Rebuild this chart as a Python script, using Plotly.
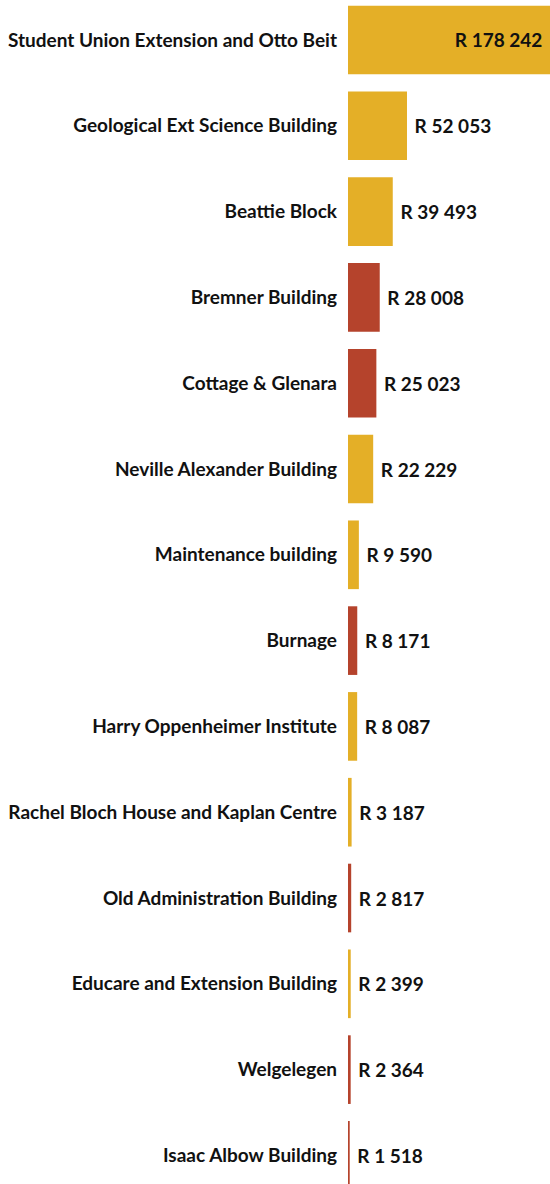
import plotly.graph_objects as go

buildings = [
    "Student Union Extension and Otto Beit",
    "Geological Ext Science Building",
    "Beattie Block",
    "Bremner Building",
    "Cottage & Glenara",
    "Neville Alexander Building",
    "Maintenance building",
    "Burnage",
    "Harry Oppenheimer Institute",
    "Rachel Bloch House and Kaplan Centre",
    "Old Administration Building",
    "Educare and Extension Building",
    "Welgelegen",
    "Isaac Albow Building",
]
values = [178242, 52053, 39493, 28008, 25023, 22229, 9590, 8171, 8087, 3187, 2817, 2399, 2364, 1518]
groups = ["gold", "gold", "gold", "red", "red", "gold", "gold", "red", "gold", "gold", "red", "gold", "red", "red"]

palette = {"gold": "#E4AF27", "red": "#B5432C"}


def fmt(v):
    return "R " + f"{v:,}".replace(",", " ")


NB = "\u00a0"
labels = [(fmt(v) + NB) if i == 0 else (NB + fmt(v)) for i, v in enumerate(values)]
colors = [palette[g] for g in groups]
positions = ["inside" if i == 0 else "outside" for i in range(len(values))]

FONT = dict(family="Lato", size=19, color="#111111", weight="bold")

fig = go.Figure(
    go.Bar(
        x=values,
        y=buildings,
        orientation="h",
        marker=dict(color=colors, line=dict(width=0)),
        text=labels,
        textposition=positions,
        insidetextanchor="end",
        textfont=FONT,
        insidetextfont=FONT,
        outsidetextfont=FONT,
        constraintext="none",
        cliponaxis=False,
        hoverinfo="skip",
    )
)

fig.update_layout(
    width=550,
    height=1184,
    margin=dict(l=348, r=0, t=0, b=0),
    paper_bgcolor="white",
    plot_bgcolor="white",
    bargap=0.2,
    showlegend=False,
    font=FONT,
    xaxis=dict(range=[0, 178242], visible=False, showgrid=False, zeroline=False),
    yaxis=dict(
        type="category",
        categoryorder="array",
        categoryarray=buildings,
        range=[13.333, -0.466],
        showgrid=False,
        zeroline=False,
        showline=False,
        ticks="",
        ticklabelstandoff=10,
        tickfont=FONT,
    ),
)

fig.write_html(
    "out.html",
    config={"displayModeBar": False, "staticPlot": True},
    post_script="document.body.style.margin='0';document.body.style.overflow='hidden';",
)
